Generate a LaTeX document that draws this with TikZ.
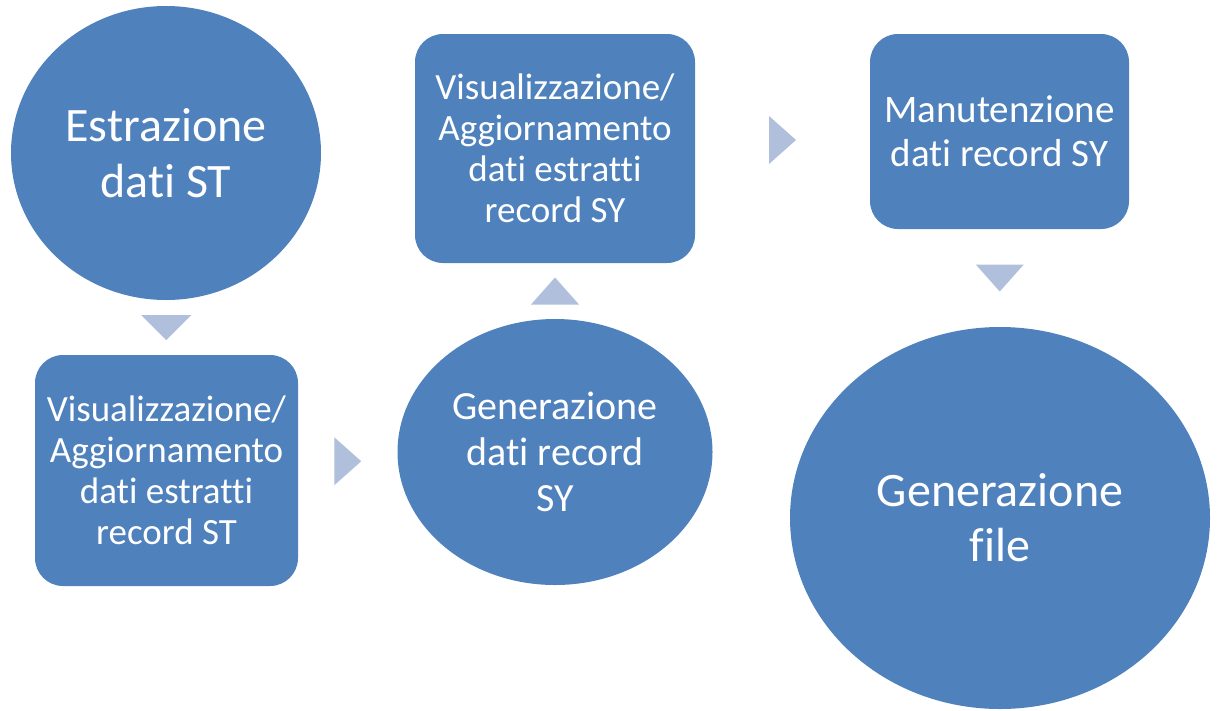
\documentclass[tikz,border=0pt]{standalone}
\usepackage{fontspec}
\setmainfont{Carlito}[Ligatures={NoCommon,NoRare,NoContextual}]
\usetikzlibrary{shapes.geometric,calc}
\definecolor{stepblue}{HTML}{4F81BD}
\definecolor{arrowblue}{HTML}{AFBFDC}
\tikzset{
  blob/.style={ellipse, fill=stepblue, text=white, inner sep=0pt, align=center},
  card/.style={rectangle, rounded corners=28pt, fill=stepblue, text=white, inner sep=0pt, align=center},
  tri/.style={fill=arrowblue}
}
\begin{document}
\begin{tikzpicture}[x=1pt,y=-1pt]
\useasboundingbox (0,0) rectangle (1217,710);
% steps
\node[blob, minimum width=310pt, minimum height=294pt, font=\fontsize{48}{56}\selectfont] (st) at (166,153) {Estrazione\\dati ST};
\node[card, minimum width=263pt, minimum height=231pt, font=\fontsize{37}{41}\selectfont] (vst) at (166.5,470.5) {Visualizzazione/\\Aggiornamento\\dati estratti\\record ST};
\node[blob, minimum width=315pt, minimum height=266pt, font=\fontsize{40}{46}\selectfont] (gsy) at (555,452) {Generazione\\dati record\\SY};
\node[card, minimum width=280pt, minimum height=229pt, font=\fontsize{37}{41}\selectfont] (vsy) at (555,148.5) {Visualizzazione/\\Aggiornamento\\dati estratti\\record SY};
\node[card, minimum width=259pt, minimum height=195pt, font=\fontsize{39}{44}\selectfont] (msy) at (999.5,131.5) {Manutenzione\\dati record SY};
\node[blob, minimum width=420pt, minimum height=382pt, font=\fontsize{48}{55}\selectfont] (gf) at (1000,518) {Generazione\\file};
% arrows
\fill[tri] ($(st.south)!.5!(vst.north)$) +(-25,-12.5) -- +(25,-12.5) -- +(0,12.5) -- cycle;
\fill[tri] ($(vst.east)!.5!(gsy.west)$) +(-13.5,-24) -- +(13.5,0) -- +(-13.5,24) -- cycle;
\fill[tri] ($(gsy.north)!.5!(vsy.south)$) +(-24,13.5) -- +(24,13.5) -- +(0,-13.5) -- cycle;
\fill[tri] ($(vsy.east)!.5!(msy.west)$) +(-13.5,-24) -- +(13.5,0) -- +(-13.5,24) -- cycle;
\fill[tri] ($(msy.south)!.5!(gf.north)$) +(-24,-13.5) -- +(24,-13.5) -- +(0,13.5) -- cycle;
\end{tikzpicture}
\end{document}
